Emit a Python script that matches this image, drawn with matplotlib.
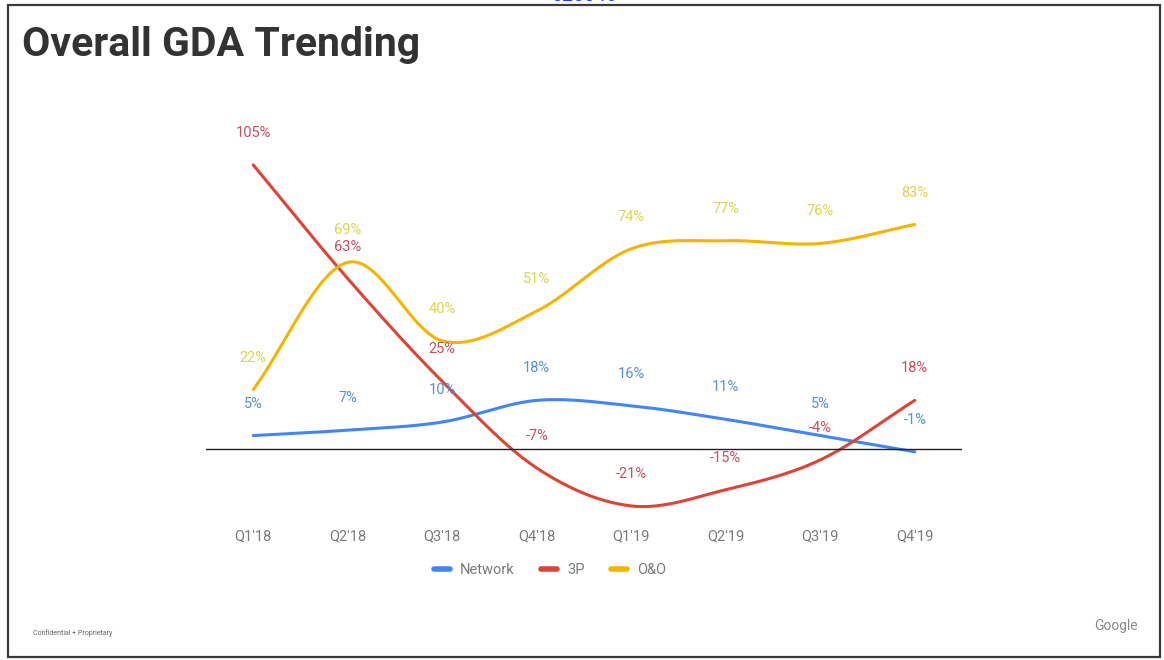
import numpy as np
import matplotlib.pyplot as plt
from matplotlib.patches import Rectangle

# Data
quarters = ["Q1'18", "Q2'18", "Q3'18", "Q4'18", "Q1'19", "Q2'19", "Q3'19", "Q4'19"]
network = [5, 7, 10, 18, 16, 11, 5, -1]
third_party = [105, 63, 25, -7, -21, -15, -4, 18]
owned = [22, 69, 40, 51, 74, 77, 76, 83]

series = [
    ("Network", network, "#4285F4", "#5b8fd0"),
    ("3P", third_party, "#DB4437", "#c4505e"),
    ("O&O", owned, "#F4B400", "#d8d54e"),
]


def smooth(ys, n=40):
    # cubic hermite through the points (catmull-rom style tangents)
    ys = np.asarray(ys, dtype=float)
    k = len(ys)
    m = np.zeros(k)
    m[1:-1] = (ys[2:] - ys[:-2]) / 2
    m[0] = ys[1] - ys[0]
    m[-1] = ys[-1] - ys[-2]
    xs_out, ys_out = [], []
    for i in range(k - 1):
        t = np.linspace(0, 1, n, endpoint=(i == k - 2))
        h00 = 2 * t**3 - 3 * t**2 + 1
        h10 = t**3 - 2 * t**2 + t
        h01 = -2 * t**3 + 3 * t**2
        h11 = t**3 - t**2
        xs_out.append(i + t)
        ys_out.append(h00 * ys[i] + h10 * m[i] + h01 * ys[i + 1] + h11 * m[i + 1])
    return np.concatenate(xs_out), np.concatenate(ys_out)


plt.rcParams['font.family'] = ['Roboto', 'DejaVu Sans']

fig = plt.figure(figsize=(11.64, 6.6), dpi=100)

# slide frame
fig.patches.append(Rectangle((8 / 1164, 3 / 660), 1152 / 1164, 652 / 660,
                             transform=fig.transFigure, fill=False,
                             edgecolor="#3a3a3a", lw=1.6))

ax = fig.add_axes([206 / 1164, 1 - 520 / 660, 756 / 1164, 410 / 660])

x = np.arange(len(quarters))
handles = []
for name, vals, col, lab_col in series:
    sx, sy = smooth(vals)
    line, = ax.plot(sx, sy, color=col, lw=2.2, label=name, solid_capstyle="round")
    handles.append(line)
    for xi, v in zip(x, vals):
        ax.annotate(f"{v}%", (xi, v), xytext=(0, 23), textcoords="offset points",
                    ha="center", va="center", fontsize=10.5, color=lab_col)

ax.axhline(0, color="#222222", lw=1)
ax.set_xlim(-0.5, 7.5)
ax.set_ylim(-26.2, 125.3)
ax.set_xticks(x)
ax.set_xticklabels(quarters, fontsize=10.5, color="#7a7a7a")
ax.tick_params(axis="x", length=0, pad=7)
ax.set_yticks([])
for s in ax.spines.values():
    s.set_visible(False)

fig.legend(handles=handles, loc="center", bbox_to_anchor=(550 / 1164, 1 - 570 / 660),
           ncol=3, frameon=False, fontsize=10.5, handlelength=1.1,
           columnspacing=1.8, handletextpad=0.7, labelcolor="#7a7a7a")
for h in fig.legends[0].get_lines():
    h.set_linewidth(4)

fig.text(22 / 1164, 1 - 45 / 660, "Overall GDA Trending", fontsize=29.5,
         fontweight="bold", color="#333333", va="center", ha="left")
fig.text(585 / 1164, 1 + 4 / 660, "025846", fontsize=14, color="#1a3cff",
         ha="center", va="center")
fig.text(33 / 1164, 1 - 633 / 660, "Confidential + Proprietary", fontsize=5,
         color="#666666", va="center")
fig.text(1138 / 1164, 1 - 626 / 660, "Google", fontsize=10, color="#8a8a8a",
         va="center", ha="right")

fig.savefig("out.png", dpi=100)
